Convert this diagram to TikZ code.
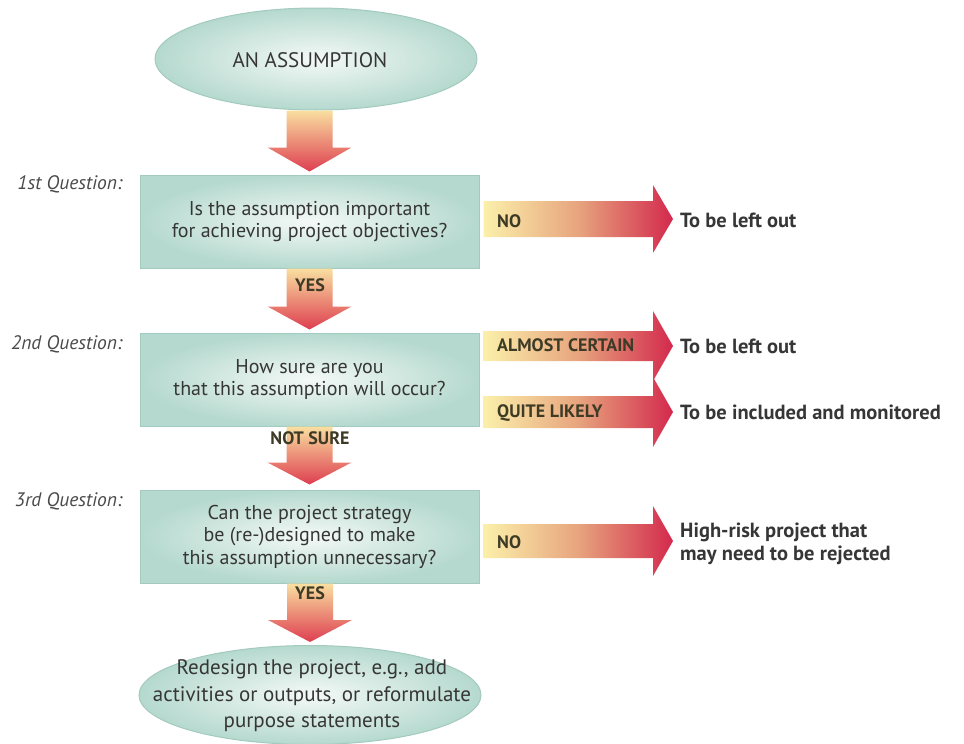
\documentclass[tikz,border=0pt]{standalone}
\usepackage{fontspec}
\setmainfont{PT Sans}
\usetikzlibrary{shapes.geometric,calc}
\definecolor{mint}{HTML}{B5D9CE}
\definecolor{mintc}{HTML}{F4F9F7}
\definecolor{mintb}{HTML}{A3CABE}
\definecolor{ayel}{HTML}{FBF0AA}
\definecolor{amid}{HTML}{E7A47E}
\definecolor{ared}{HTML}{D3294C}
\definecolor{dtop}{HTML}{F9DFA0}
\definecolor{dbot}{HTML}{DE3E50}
\definecolor{dtext}{HTML}{363636}
\definecolor{olive}{HTML}{3D3A26}
\definecolor{qgray}{HTML}{4A4A4A}
\newcommand\rarrow[4]{%
  \path[rarr] let \p1=(#1), \p2=(#2) in
   (\x1,\y2+#3) -- (\x2-20pt,\y2+#3) -- (\x2-20pt,\y2+#4) -- (\x2,\y2)
   -- (\x2-20pt,\y2-#4) -- (\x2-20pt,\y2-#3) -- (\x1,\y2-#3) -- cycle;}
\newcommand\darrow[3]{%
  \path[darr] let \p1=(#1), \p2=(#2) in
   (\x2-23pt,\y1) -- (\x2+23pt,\y1) -- (\x2+23pt,\y2+#3) -- (\x2+42pt,\y2+#3)
   -- (\x2,\y2) -- (\x2-42pt,\y2+#3) -- (\x2-23pt,\y2+#3) -- cycle;}
\begin{document}
\begin{tikzpicture}[x=1pt,y=-1pt,
  qbox/.style={draw=mintb, line width=1pt, inner color=mintc, outer color=mint,
    minimum width=339pt, minimum height=93pt, align=center, text=dtext,
    font=\fontsize{20}{22.5}\selectfont},
  ovalbox/.style={ellipse, draw=mintb, line width=1pt, inner color=mintc, outer color=mint,
    inner sep=0pt},
  ovaltext/.style={align=center, text=dtext, inner sep=0pt, font=\fontsize{21}{26.5}\selectfont},
  qlabel/.style={anchor=east, inner sep=0pt, text=qgray, font=\fontsize{19.5}{22}\selectfont\itshape},
  outtext/.style={anchor=west, inner sep=0pt, align=left, text=dtext,
    font=\fontsize{20.5}{22.5}\selectfont\bfseries},
  alabel/.style={inner sep=0pt, text=olive, font=\fontsize{18}{20}\selectfont\bfseries},
  rarr/.style={left color=ayel, right color=ared, middle color=amid},
  darr/.style={top color=dtop, bottom color=dbot}
]
\useasboundingbox (0,0) rectangle (964,744);

% main nodes
\node[ovalbox, minimum width=322pt, minimum height=102pt] (start) at (316,59) {};
\node[ovaltext] (starttext) at (310,60) {AN ASSUMPTION};
\node[qbox] (q1) at (309.5,221.5) {Is the assumption important\\for achieving project objectives?};
\node[qbox] (q2) at (309.5,379.5) {How sure are you\\that this assumption will occur?};
\node[qbox] (q3) at (309.5,536.5) {Can the project strategy\\be (re-)designed to make\\this assumption unnecessary?};
\node[ovalbox, minimum width=342pt, minimum height=99pt] (end) at (310,695) {};
\node[ovaltext] (endtext) at (312,696)
  {Redesign the project, e.g., add\\activities or outputs, or reformulate\\purpose statements};

% question labels
\node[qlabel, anchor=north east] (l1) at ([xshift=-17pt,yshift=-1pt]q1.north west) {1st Question:};
\node[qlabel, anchor=north east] (l2) at ([xshift=-17pt,yshift=-3pt]q2.north west) {2nd Question:};
\node[qlabel, anchor=north east] (l3) at ([xshift=-17pt,yshift=-3pt]q3.north west) {3rd Question:};

% outcome texts
\node[outtext] (o1) at (680,220) {To be left out};
\node[outtext] (o2a) at (680,346) {To be left out};
\node[outtext] (o2b) at (680,412) {To be included and monitored};
\node[outtext] (o3) at (680,544) {High-risk project that\\may need to be rejected};

% down arrows
\darrow{start.south}{[yshift=3pt]q1.north}{24pt}
\darrow{q1.south}{[yshift=3pt]q2.north}{23pt}
\darrow{q2.south}{[yshift=5pt]q3.north}{22pt}
\darrow{q3.south}{[yshift=3pt]end.north}{22pt}

% right arrows
\rarrow{[xshift=4pt]q1.east}{[xshift=-7pt,yshift=1pt]o1.west}{18pt}{34pt}
\rarrow{[xshift=4pt]q2.east}{[xshift=-7pt]o2a.west}{15pt}{35pt}
\rarrow{[xshift=4pt]q2.east}{[xshift=-7pt]o2b.west}{16pt}{35pt}
\rarrow{[xshift=4pt]q3.east}{[xshift=-7pt,yshift=3pt]o3.west}{17pt}{35pt}

% arrow labels
\node[alabel] (y1) at (310,285) {YES};
\node[alabel] (ns) at (310,438) {NOT SURE};
\node[alabel] (y2) at (310,593) {YES};
\node[alabel, anchor=west] (n1) at (497,221) {NO};
\node[alabel, anchor=west] (ac) at (497,345) {ALMOST CERTAIN};
\node[alabel, anchor=west] (ql) at (497,413) {QUITE LIKELY};
\node[alabel, anchor=west] (n3) at (497,542) {NO};
\end{tikzpicture}
\end{document}
